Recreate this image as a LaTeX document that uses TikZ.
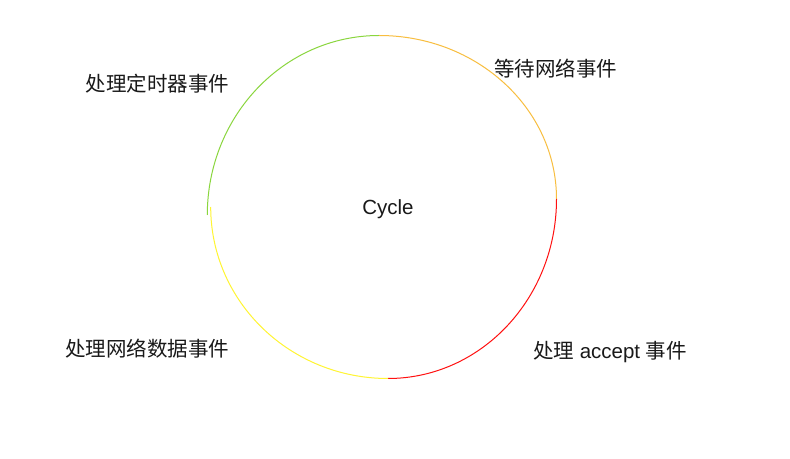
\documentclass[tikz,border=0pt]{standalone}
\usepackage{fontspec}
\setmainfont{Liberation Sans}
\newfontfamily\cjk{Noto Sans CJK SC}
\definecolor{arcgreen}{HTML}{8AD63E}
\definecolor{arcorange}{HTML}{F8BE40}
\definecolor{arcred}{HTML}{FF1010}
\definecolor{arcyellow}{HTML}{FFF533}
\begin{document}
\begin{tikzpicture}[x=1pt,y=1pt,
  lbl/.style={inner sep=0pt, font=\fontsize{20.5}{24}\selectfont, text=black!90},
  arcline/.style={line width=1pt}]
\useasboundingbox (0,0) rectangle (790,458);
\fill[white] (0,0) rectangle (790,458);
% arcs
\coordinate (gl) at (207.3,243);
\coordinate (top) at (379,422.5);
\coordinate (rt) at (556.5,259);
\coordinate (bot) at (388,79.5);
\coordinate (yl) at (210.7,251);
\draw[arcline, arcgreen] (gl) arc[start angle=180, end angle=90, x radius=171.7, y radius=179.5];
\draw[arcline, arcorange] (top) arc[start angle=90, end angle=0, x radius=177.5, y radius=163.5];
\draw[arcline, arcred] (rt) arc[start angle=0, end angle=-90, x radius=168.5, y radius=179.5];
\draw[arcline, arcyellow] (bot) arc[start angle=-90, end angle=-180, x radius=177.3, y radius=171.5];
% labels
\node[lbl] (cycle) at (388,249) {Cycle};
\node[lbl] (timer) at (157.5,374.5) {\cjk 处理定时器事件};
\node[lbl] (wait) at (555.5,389.5) {\cjk 等待网络事件};
\node[lbl] (data) at (147,109.5) {\cjk 处理网络数据事件};
\node[lbl] (accept) at (610,105.5) {{\cjk 处理} accept {\cjk 事件}};
\end{tikzpicture}
\end{document}
